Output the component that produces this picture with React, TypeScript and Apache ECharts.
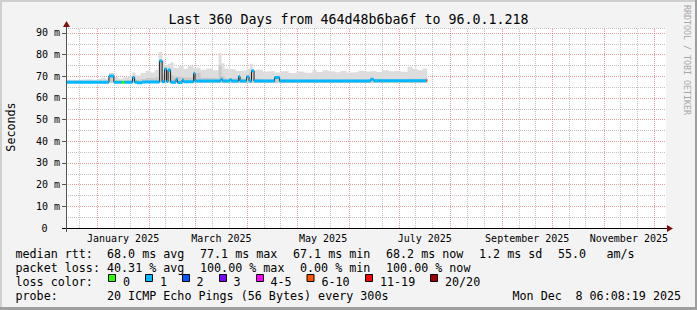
import React, { useEffect, useRef } from 'react';
import * as echarts from 'echarts';

const startTime = '2024-12-13T06:08:00';
const endTime = '2025-12-08T06:08:00';
const yMax = 92.3;
const yTicks = [0, 10, 20, 30, 40, 50, 60, 70, 80, 90];

const titleText = 'Last 360 Days from 464d48b6ba6f to 96.0.1.218';

// median rtt (ms) change points, step-wise, with loss bucket
const medianDates = [
  '2024-12-13T06:08', '2025-01-08T00:00', '2025-01-11T00:00', '2025-01-15T14:00', '2025-01-17T10:00',
  '2025-01-22T04:00', '2025-01-23T10:00', '2025-01-25T00:00', '2025-01-28T00:00', '2025-02-07T10:00',
  '2025-02-08T22:00', '2025-02-10T10:00', '2025-02-11T14:00', '2025-02-12T12:00', '2025-02-14T00:00',
  '2025-02-17T06:00', '2025-02-18T04:00', '2025-02-20T22:00', '2025-02-21T20:00', '2025-02-27T20:00',
  '2025-02-28T16:00', '2025-03-16T00:00', '2025-03-17T04:00', '2025-03-21T10:00', '2025-03-22T14:00',
  '2025-03-26T20:00', '2025-03-27T16:00', '2025-03-31T14:00', '2025-04-02T02:00', '2025-04-03T14:00',
  '2025-04-05T02:00', '2025-04-17T10:00', '2025-04-20T10:00', '2025-06-14T00:00', '2025-06-15T20:00',
  '2025-07-17T10:00', '2025-07-18T00:00',
];
const medianValues = [
  67.3, 70.1, 67.3, 67.3, 67.3,
  69.5, 67.3, 67.0, 67.4, 77.1,
  67.5, 73.4, 67.6, 72.9, 67.3,
  68.6, 67.2, 68.3, 67.5, 71.4,
  67.8, 68.6, 67.8, 68.4, 67.8,
  69.9, 67.8, 69.8, 67.8, 72.6,
  67.8, 69.4, 67.8, 68.6, 68.0,
  68.2, 68.2,
];
const medianLoss = [
  '1', '1', '1', '0', '1',
  '1', '1', '1', '1', '1',
  '1', '1', '1', '1', '1',
  '1', '1', '1', '1', '1',
  '1', '1', '1', '1', '1',
  '1', '1', '1', '1', '1',
  '1', '1', '1', '1', '1',
  '6-10', '6-10',
];

// smoke (ping spread) in ms
const smokeFloor = 67.0;
const smokeDates = [
  '2024-12-13T06:08', '2024-12-21T22:00', '2024-12-27T22:00', '2024-12-31T12:00', '2025-01-03T14:00',
  '2025-01-06T00:00', '2025-01-08T00:00', '2025-01-11T00:00', '2025-01-13T10:00', '2025-01-16T10:00',
  '2025-01-19T10:00', '2025-01-22T00:00', '2025-01-24T00:00', '2025-01-27T00:00', '2025-01-30T00:00',
  '2025-02-02T00:00', '2025-02-04T10:00', '2025-02-06T20:00', '2025-02-09T00:00', '2025-02-10T10:00',
  '2025-02-12T05:00', '2025-02-14T00:00', '2025-02-15T20:00', '2025-02-18T20:00', '2025-02-21T20:00',
  '2025-02-24T05:00', '2025-02-27T20:00', '2025-03-04T00:00', '2025-03-07T14:00', '2025-03-11T05:00',
  '2025-03-14T20:00', '2025-03-16T14:00', '2025-03-18T10:00', '2025-03-22T00:00', '2025-03-25T14:00',
  '2025-03-28T14:00', '2025-03-31T14:00', '2025-04-02T10:00', '2025-04-04T05:00', '2025-04-06T14:00',
  '2025-04-10T05:00', '2025-04-13T20:00', '2025-04-17T10:00', '2025-04-21T00:00', '2025-04-25T20:00',
  '2025-04-30T14:00', '2025-05-05T10:00', '2025-05-10T05:00', '2025-05-12T14:00', '2025-05-16T05:00',
  '2025-05-19T20:00', '2025-05-23T10:00', '2025-05-27T00:00', '2025-05-30T14:00', '2025-06-03T05:00',
  '2025-06-06T20:00', '2025-06-10T10:00', '2025-06-14T00:00', '2025-06-17T14:00', '2025-06-21T05:00',
  '2025-06-24T20:00', '2025-06-28T10:00', '2025-07-02T00:00', '2025-07-06T05:00', '2025-07-09T05:00',
  '2025-07-12T05:00', '2025-07-15T05:00', '2025-07-18T00:00',
];
const smokeMid = [
  67.9, 67.9, 67.9, 68.0, 68.0, 68.0, 70.3, 68.0, 68.0, 68.1,
  68.3, 69.5, 68.4, 68.8, 69.2, 69.0, 69.5, 77.5, 71.0, 73.6,
  73.0, 70.5, 69.8, 69.6, 69.3, 69.5, 71.6, 69.3, 69.3, 69.0,
  75.0, 70.0, 69.0, 69.0, 69.5, 68.8, 69.8, 72.0, 69.0, 68.8,
  68.6, 68.6, 69.4, 68.6, 68.5, 68.5, 68.5, 68.5, 68.5, 68.6,
  68.5, 68.5, 68.6, 68.5, 68.6, 68.6, 68.6, 68.9, 68.7, 68.7,
  68.7, 68.7, 68.7, 69.0, 68.8, 68.8, 68.9, 68.9,
];
const smokeHigh = [
  68.4, 68.6, 68.3, 68.8, 69.3, 68.9, 71.5, 69.8, 69.0, 69.6,
  70.2, 71.8, 70.4, 71.5, 72.6, 71.8, 73.0, 81.2, 77.5, 75.0,
  75.8, 76.5, 74.0, 74.8, 73.5, 74.8, 73.8, 73.0, 73.6, 72.8,
  80.6, 76.0, 73.5, 73.2, 72.5, 72.8, 73.5, 75.8, 72.8, 73.2,
  72.2, 72.5, 71.8, 72.3, 71.5, 72.2, 71.6, 72.9, 72.0, 72.8,
  72.3, 71.9, 72.5, 71.8, 72.0, 72.6, 72.2, 72.5, 72.0, 72.8,
  72.3, 72.6, 72.1, 74.4, 73.5, 72.8, 73.6, 73.6,
];

const majorGridDates = [
  '2025-01-01', '2025-02-01', '2025-03-01', '2025-04-01', '2025-05-01', '2025-06-01',
  '2025-07-01', '2025-08-01', '2025-09-01', '2025-10-01', '2025-11-01', '2025-12-01',
];
const minorGridDates = [
  '2024-12-21', '2025-01-11', '2025-01-21', '2025-02-11', '2025-02-21', '2025-03-11', '2025-03-21',
  '2025-04-11', '2025-04-21', '2025-05-11', '2025-05-21', '2025-06-11', '2025-06-21',
  '2025-07-11', '2025-07-21', '2025-08-11', '2025-08-21', '2025-09-11', '2025-09-21',
  '2025-10-11', '2025-10-21', '2025-11-11', '2025-11-21',
];
const monthLabelDates = [
  '2025-01-16T12:00', '2025-03-16T12:00', '2025-05-16T12:00',
  '2025-07-16T12:00', '2025-09-16T00:00', '2025-11-16T00:00',
];
const monthLabels = ['January 2025', 'March 2025', 'May 2025', 'July 2025', 'September 2025', 'November 2025'];
const yMinorTicks = [5, 15, 25, 35, 45, 55, 65, 75, 85];
const yMajorTicks = [10, 20, 30, 40, 50, 60, 70, 80, 90];

const lossLabels = ['0', '1', '2', '3', '4-5', '6-10', '11-19', '20/20'];
const lossColors = ['#26ff00', '#00b8ff', '#0059ff', '#7e00ff', '#ff00ff', '#ff5500', '#ff0000', '#a10000'];

const medianStats = ['68.0 ms avg', '77.1 ms max', '67.1 ms min', '68.2 ms now', '1.2 ms sd', '55.0', 'am/s'];
const lossStats = ['40.31 % avg', '100.00 % max', '0.00 % min', '100.00 % now'];
const probeText = '20 ICMP Echo Pings (56 Bytes) every 300s';
const dateStampParts = ['Mon Dec', '8 06:08:19 2025'];

const toMs = (s: string) => new Date(s).getTime();
const MONO = '"DejaVu Sans Mono", monospace';

export default function App() {
  const ref = useRef<HTMLDivElement>(null);
  useEffect(() => {
    if (!ref.current) return;
    const chart = echarts.init(ref.current, null, { renderer: 'svg' });

    const smokeMidData = smokeDates.map((d, i) => [toMs(d), smokeMid[i]]);
    const smokeHighData = smokeDates.map((d, i) => [toMs(d), smokeHigh[i]]);
    const medianLine = medianDates.map((d, i) => [toMs(d), medianValues[i]]);

    const lossSeries = lossLabels.map((lab, li) => {
      const data: any[] = [];
      for (let i = 0; i < medianDates.length - 1; i++) {
        if (medianLoss[i] !== lab) continue;
        data.push([toMs(medianDates[i]), medianValues[i]]);
        data.push([toMs(medianDates[i + 1]), medianValues[i]]);
        data.push(null);
      }
      return {
        type: 'line',
        name: 'loss ' + lab,
        data,
        symbol: 'none',
        connectNulls: false,
        lineStyle: { color: lossColors[li], width: 3, cap: 'butt' },
        z: 5,
        silent: true,
      };
    }).filter((s) => s.data.length > 0);

    const grayLine = { color: 'rgba(143,143,143,0.55)', width: 1, type: [1, 1] as any };
    const redLine = { color: 'rgba(222,94,94,0.6)', width: 1, type: [1, 1] as any };

    const gridLines: any[] = [];
    minorGridDates.forEach((d) => gridLines.push({ xAxis: toMs(d), lineStyle: grayLine }));
    yMinorTicks.forEach((v) => gridLines.push({ yAxis: v, lineStyle: grayLine }));
    gridLines.push({ yAxis: yMax, lineStyle: grayLine });
    majorGridDates.forEach((d) => gridLines.push({ xAxis: toMs(d), lineStyle: redLine }));
    yMajorTicks.forEach((v) => gridLines.push({ yAxis: v, lineStyle: redLine }));

    const legendFont = '11.7px ' + MONO;
    const txt = (text: string, x: number, y: number, extra: any = {}) => ({
      type: 'text',
      x,
      y,
      z: 20,
      silent: true,
      style: { text, fill: '#000', font: legendFont, align: 'left', verticalAlign: 'middle', ...extra },
    });

    const rowY = [254.2, 268.2, 281.8, 295.8];
    const medX = [107, 200, 293, 386, 479, 558, 606.5];
    const lossX = [107, 200, 300, 386];
    const swatchX = [108.5, 145.5, 182.5, 219.5, 256.5, 307, 365.5, 430.5];
    const swatchTextX = [123, 160, 196.5, 233.5, 270.5, 321.5, 380, 445];

    const graphics: any[] = [
      { type: 'rect', shape: { x: 0, y: 0, width: 697, height: 2 }, style: { fill: '#cfcfcf' }, z: 30, silent: true },
      { type: 'rect', shape: { x: 0, y: 0, width: 2, height: 310 }, style: { fill: '#cfcfcf' }, z: 30, silent: true },
      { type: 'rect', shape: { x: 0, y: 307, width: 697, height: 3 }, style: { fill: '#9e9e9e' }, z: 31, silent: true },
      { type: 'rect', shape: { x: 695, y: 0, width: 2, height: 310 }, style: { fill: '#9e9e9e' }, z: 31, silent: true },
      { type: 'line', shape: { x1: 62, y1: 228.5, x2: 668, y2: 228.5 }, style: { stroke: '#000', lineWidth: 1 }, z: 20, silent: true },
      { type: 'line', shape: { x1: 66.5, y1: 232, x2: 66.5, y2: 25 }, style: { stroke: '#555', lineWidth: 1 }, z: 20, silent: true },
      { type: 'polygon', shape: { points: [[667, 225], [667, 232], [673, 228.5]] }, style: { fill: '#7f1010' }, z: 21, silent: true },
      { type: 'polygon', shape: { points: [[63, 27], [70, 27], [66.5, 21]] }, style: { fill: '#7f1010' }, z: 21, silent: true },
      { type: 'text', x: 348.5, y: 19, z: 20, silent: true, style: { text: titleText, fill: '#000', font: '13.3px ' + MONO, align: 'center', verticalAlign: 'middle' } },
      { type: 'text', x: 10.5, y: 127, rotation: Math.PI / 2, z: 20, silent: true, style: { text: 'Seconds', fill: '#000', font: '11.7px ' + MONO, align: 'center', verticalAlign: 'middle' } },
      { type: 'text', x: 686.5, y: 60, rotation: -Math.PI / 2, z: 20, silent: true, style: { text: 'RRDTOOL / TOBI OETIKER', fill: '#a6a6a6', font: '8.3px ' + MONO, align: 'center', verticalAlign: 'middle' } },
      txt('median rtt:', 15.5, rowY[0]),
      ...medianStats.map((s, i) => txt(s, medX[i], rowY[0])),
      txt('packet loss:', 15.5, rowY[1]),
      ...lossStats.map((s, i) => txt(s, lossX[i], rowY[1])),
      txt('loss color:', 15.5, rowY[2]),
      ...lossLabels.map((s, i) => txt(s, swatchTextX[i], rowY[2])),
      ...lossColors.map((c, i) => ({
        type: 'rect', z: 20, silent: true,
        shape: { x: swatchX[i], y: 274.5, width: 7, height: 7 },
        style: { fill: c, stroke: '#000', lineWidth: 1 },
      })),
      txt('probe:', 15.5, rowY[3]),
      txt(probeText, 107, rowY[3]),
      txt(dateStampParts[0], 512.5, rowY[3]),
      txt(dateStampParts[1], 575.5, rowY[3]),
    ];

    const monthMs = monthLabelDates.map(toMs);

    const option: any = {
      animation: false,
      backgroundColor: '#f3f3f3',
      grid: { left: 66, top: 28, width: 600, height: 200, show: true, backgroundColor: '#ffffff', borderWidth: 0 },
      xAxis: {
        type: 'value',
        min: toMs(startTime),
        max: toMs(endTime),
        axisLine: { show: false },
        axisTick: { show: false },
        splitLine: { show: false },
        axisLabel: {
          customValues: monthMs,
          formatter: (v: number) => {
            const i = monthMs.findIndex((m) => Math.abs(m - v) < 86400000);
            return i >= 0 ? monthLabels[i] : '';
          },
          fontFamily: MONO,
          fontSize: 10,
          color: '#000',
          margin: 5,
        },
      },
      yAxis: {
        type: 'value',
        min: 0,
        max: yMax,
        interval: 10,
        axisLine: { show: false },
        splitLine: { show: false },
        axisTick: { show: true, length: 4, customValues: yTicks, lineStyle: { color: '#555' } },
        axisLabel: {
          customValues: yTicks,
          formatter: (v: number) => (Math.abs(v) < 1e-6 ? '{z|0}' : Math.round(v) % 10 === 0 && v <= 90 ? `${Math.round(v)} m` : ''),
          rich: { z: { padding: [0, 12.5, 0, 0], fontFamily: MONO, fontSize: 10, color: '#000' } },
          fontFamily: MONO,
          fontSize: 10,
          color: '#000',
          margin: 6,
        },
      },
      series: [
        {
          type: 'line',
          name: 'gridlines',
          data: [[toMs(startTime), null]],
          symbol: 'none',
          lineStyle: { opacity: 0 },
          z: 1,
          silent: true,
          markLine: {
            silent: true,
            symbol: ['none', 'none'],
            label: { show: false },
            z: 1,
            data: gridLines,
            animation: false,
          },
        },
        {
          type: 'line',
          name: 'smokeHigh',
          step: 'end',
          data: smokeHighData,
          symbol: 'none',
          lineStyle: { width: 0, opacity: 0 },
          areaStyle: { color: '#dddddd', opacity: 1, origin: smokeFloor },
          z: 2,
          silent: true,
        },
        {
          type: 'line',
          name: 'smokeMid',
          step: 'end',
          data: smokeMidData,
          symbol: 'none',
          lineStyle: { width: 0, opacity: 0 },
          areaStyle: { color: '#c9c9c9', opacity: 1, origin: smokeFloor },
          z: 3,
          silent: true,
        },
        {
          type: 'line',
          name: 'median',
          step: 'end',
          data: medianLine,
          symbol: 'none',
          lineStyle: { color: '#202020', width: 1 },
          z: 4,
          silent: true,
        },
        ...lossSeries,
      ],
      graphic: graphics,
    };
    chart.setOption(option);
    return () => chart.dispose();
  }, []);
  return <div ref={ref} style={{ position: 'fixed', left: 0, top: 0, width: 697, height: 310 }} />;
}
